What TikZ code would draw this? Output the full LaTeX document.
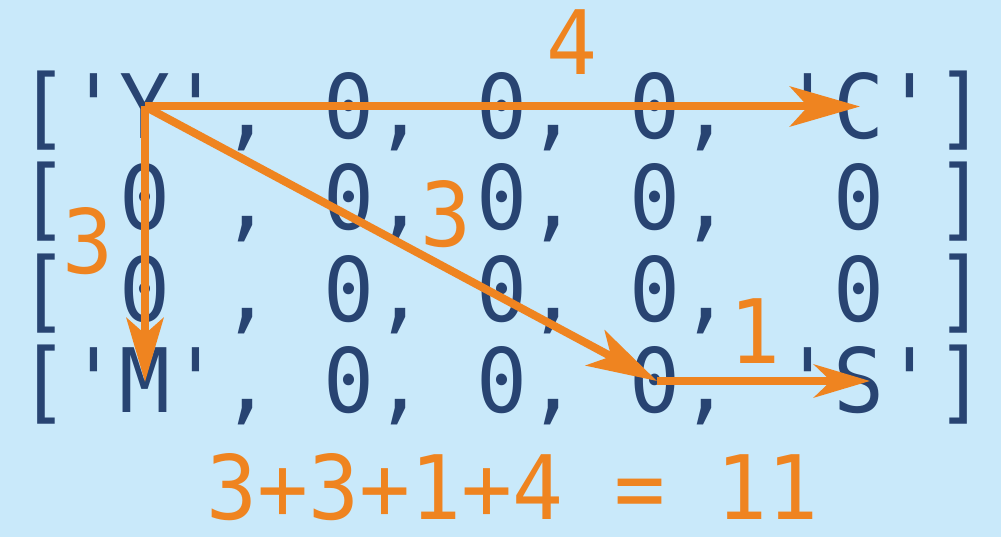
\documentclass[tikz,border=0pt]{standalone}
\usepackage{fontspec}
\setmonofont{DejaVu Sans Mono}
\usetikzlibrary{arrows.meta}
\definecolor{bgblue}{RGB}{201,233,250}
\definecolor{navy}{RGB}{40,68,114}
\definecolor{orng}{RGB}{239,132,32}
\newcommand{\bigmono}{\ttfamily\fontsize{84.7}{91}\selectfont}
\tikzset{
  rowtxt/.style={anchor=base west, inner sep=0pt, outer sep=0pt, text=navy, font=\bigmono},
  lbl/.style={anchor=base, inner sep=0pt, outer sep=0pt, text=orng, font=\bigmono},
  arr/.style={draw=orng, line width=8pt, line cap=butt, line join=round},
}
\newcommand{\sy}[1]{\scalebox{1}[1.05]{#1}}
\begin{document}
\begin{tikzpicture}[x=1pt,y=-1pt]
\fill[bgblue] (0,0) rectangle (1001,537);
\useasboundingbox (0,0) rectangle (1001,537);
% matrix rows
\node[rowtxt] (r1) at (18,139) {\sy{['Y',~0,~0,~0,~'C']}};
\node[rowtxt] (r2) at (18,230) {\sy{[~0~,~0,~0,~0,~~0~]}};
\node[rowtxt] (r3) at (18,321) {\sy{[~0~,~0,~0,~0,~~0~]}};
\node[rowtxt] (r4) at (18,412) {\sy{['M',~0,~0,~0,~'S']}};
% path points
\coordinate (y) at (145,106.5);
\coordinate (c) at (860,106.5);
\coordinate (m) at (145,382);
\coordinate (z) at (657,381);
\coordinate (s) at (870,381);
% arrows
\draw[arr, -{Stealth[length=70pt,width=40pt,inset=18pt]}] (y) -- (c);
\draw[arr, -{Stealth[length=64pt,width=37pt,inset=16pt]}] (y) -- (m);
\draw[arr, -{Stealth[length=70pt,width=40pt,inset=18pt]}] (y) -- (z);
\draw[arr, -{Stealth[length=56pt,width=33pt,inset=17pt]}] (z) -- (s);
% labels
\node[lbl] (l4) at (572,75) {\sy{4}};
\node[lbl] (l3a) at (88,274) {\sy{3}};
\node[lbl] (l3b) at (446,247) {\sy{3}};
\node[lbl] (l1) at (755,363) {\sy{1}};
\node[anchor=base west, inner sep=0pt, text=orng, font=\bigmono] (sum) at (206,519) {\sy{3+3+1+4~=~11}};
\end{tikzpicture}
\end{document}
